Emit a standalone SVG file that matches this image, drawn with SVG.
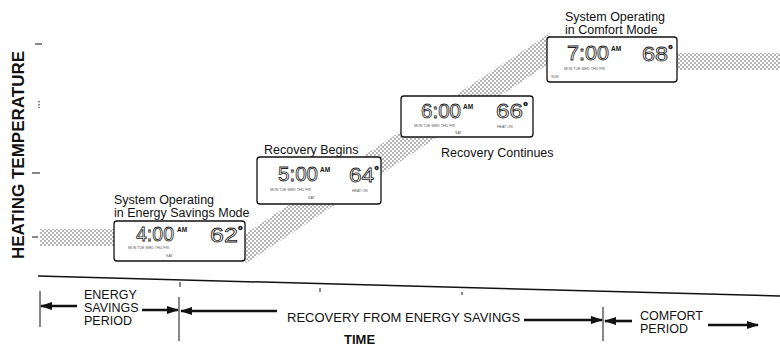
<svg xmlns="http://www.w3.org/2000/svg" width="780" height="346" viewBox="0 0 780 346">
<defs>
<pattern id="dots" width="4" height="4" patternUnits="userSpaceOnUse">
<rect width="4" height="4" fill="#fff"/>
<circle cx="1" cy="1" r="0.72" fill="#444"/>
<circle cx="3" cy="3" r="0.72" fill="#444"/>
</pattern>
<marker id="ah" viewBox="0 0 12 8" refX="11" refY="4" markerWidth="12" markerHeight="8" markerUnits="userSpaceOnUse" orient="auto">
<path d="M0,0 L12,4 L0,8 Z" fill="#111"/>
</marker>
</defs>
<style>
.lbl{font-family:"Liberation Sans",Arial,sans-serif;font-size:12.5px;fill:#111}
.tl{font-family:"Liberation Sans",Arial,sans-serif;font-size:12.5px;fill:#111}
.lcd{fill:#fff;stroke:#111;stroke-width:1.3}
.dig{font-family:"Liberation Sans",Arial,sans-serif;font-size:21px;fill:#fff;stroke:#222;stroke-width:0.8}
.am{font-family:"Liberation Sans",Arial,sans-serif;font-size:6.5px;font-weight:bold;fill:#111}
.tiny{font-family:"Liberation Sans",Arial,sans-serif;font-size:3.6px;fill:#555}
.arr{stroke:#111;stroke-width:2.6;fill:none;marker-end:url(#ah)}
.thin{stroke:#111;stroke-width:1;fill:none}
</style>
<rect width="780" height="346" fill="#fff"/>

<g id="axis">
<text transform="translate(24,155) rotate(-90)" text-anchor="middle" style="font-family:'Liberation Sans',Arial,sans-serif;font-size:17px;font-weight:bold;fill:#111">HEATING TEMPERATURE</text>
<line class="thin" x1="35" y1="44" x2="42" y2="44"/>
<line class="thin" x1="39" y1="101" x2="39" y2="108" stroke-dasharray="1.5,1.5"/>
<line class="thin" x1="32" y1="173" x2="40" y2="173"/>
<line class="thin" x1="32" y1="237" x2="38" y2="237"/>
<line x1="38" y1="276" x2="780" y2="296" stroke="#111" stroke-width="1.5"/>
<line class="thin" x1="180" y1="282" x2="180" y2="287"/>
<line class="thin" x1="320" y1="288" x2="320" y2="292"/>
<line class="thin" x1="462" y1="292" x2="462" y2="295"/>
</g>

<g id="band">
<rect x="40" y="229" width="90" height="17" fill="url(#dots)"/>
<polygon points="245,234 550,33 550,63 245,264" fill="url(#dots)"/>
<rect x="660" y="53" width="120" height="17" fill="url(#dots)"/>
</g>

<g id="lcd1">
<text class="lbl" x="114" y="204">System Operating</text>
<text class="lbl" x="114" y="217">in Energy Savings Mode</text>
<rect class="lcd" x="114" y="221" width="131" height="40" rx="3"/>
<text class="dig" x="136" y="241" textLength="38" lengthAdjust="spacingAndGlyphs">4:00</text>
<text class="am" x="177" y="232">AM</text>
<text class="dig" x="210" y="242" textLength="33" lengthAdjust="spacingAndGlyphs">62<tspan font-size="11" dy="-8" stroke-width="0.8">°</tspan></text>
<text class="tiny" x="128" y="249">MON TUE WED THU FRI</text>
<text class="tiny" x="166" y="257">SAT</text>
</g>

<g id="lcd2">
<text class="lbl" x="264" y="154">Recovery Begins</text>
<rect class="lcd" x="257" y="157" width="124" height="47" rx="3"/>
<text class="dig" x="278" y="181" textLength="40" lengthAdjust="spacingAndGlyphs">5:00</text>
<text class="am" x="320" y="172">AM</text>
<text class="dig" x="349" y="182" textLength="30" lengthAdjust="spacingAndGlyphs">64<tspan font-size="11" dy="-8" stroke-width="0.8">°</tspan></text>
<text class="tiny" x="270" y="191">MON TUE WED THU FRI</text>
<text class="tiny" x="352" y="192">HEAT ON</text>
<text class="tiny" x="308" y="199">SAT</text>
</g>

<g id="lcd3">
<rect class="lcd" x="401" y="96" width="132" height="41" rx="3"/>
<text class="dig" x="421" y="118" textLength="40" lengthAdjust="spacingAndGlyphs">6:00</text>
<text class="am" x="463" y="109">AM</text>
<text class="dig" x="496" y="118" textLength="32" lengthAdjust="spacingAndGlyphs">66<tspan font-size="11" dy="-8" stroke-width="0.8">°</tspan></text>
<text class="tiny" x="414" y="127">MON TUE WED THU FRI</text>
<text class="tiny" x="497" y="128">HEAT ON</text>
<text class="tiny" x="455" y="134">SAT</text>
<text class="lbl" x="441" y="157">Recovery Continues</text>
</g>

<g id="lcd4">
<text class="lbl" x="565" y="21">System Operating</text>
<text class="lbl" x="565" y="34">in Comfort Mode</text>
<rect class="lcd" x="547" y="37" width="130" height="45" rx="3"/>
<text class="dig" x="567" y="60" textLength="42" lengthAdjust="spacingAndGlyphs">7:00</text>
<text class="am" x="611" y="51">AM</text>
<text class="dig" x="642" y="61" textLength="31" lengthAdjust="spacingAndGlyphs">68<tspan font-size="11" dy="-8" stroke-width="0.8">°</tspan></text>
<text class="tiny" x="564" y="70">MON TUE WED THU FRI</text>
<text class="tiny" x="551" y="78">SUN</text>
</g>

<g id="timeline">
<line class="thin" x1="40" y1="291" x2="40" y2="327"/>
<line class="thin" x1="179" y1="297" x2="179" y2="341"/>
<line class="thin" x1="603" y1="307" x2="603" y2="341"/>
<line class="arr" x1="77" y1="306" x2="41" y2="306"/>
<line class="arr" x1="142" y1="310" x2="178" y2="310"/>
<line class="arr" x1="277" y1="311" x2="181" y2="311"/>
<line class="arr" x1="524" y1="320" x2="602" y2="320"/>
<line class="arr" x1="632" y1="321" x2="605" y2="321"/>
<line class="arr" x1="708" y1="325" x2="758" y2="325"/>
</g>

<g id="timeline-labels">
<text class="tl" x="84" y="299">ENERGY</text>
<text class="tl" x="84" y="312">SAVINGS</text>
<text class="tl" x="84" y="325">PERIOD</text>
<text class="tl" x="287" y="322" style="font-size:13px">RECOVERY FROM ENERGY SAVINGS</text>
<text class="tl" x="640" y="320">COMFORT</text>
<text class="tl" x="640" y="333">PERIOD</text>
<text x="344" y="344" style="font-family:'Liberation Sans',Arial,sans-serif;font-size:13px;font-weight:bold;fill:#111">TIME</text>
</g>
</svg>
